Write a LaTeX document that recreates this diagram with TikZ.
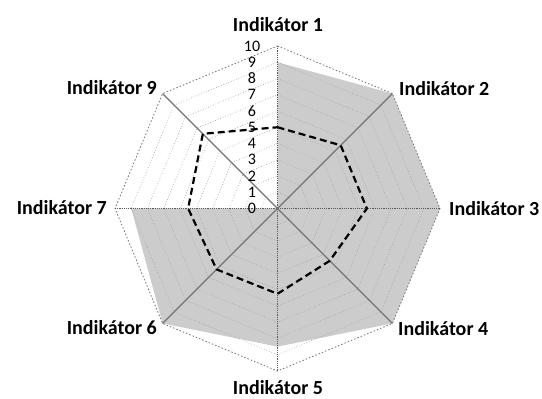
\documentclass[tikz,border=0pt]{standalone}
\usepackage{fontspec}
\setmainfont{Carlito}
\begin{document}
\begin{tikzpicture}[x=1pt,y=1pt,
  shadefill/.style={fill=black!20},
  ring/.style={draw=black!35, dotted, line width=0.7pt},
  outerring/.style={draw=black!55, dash pattern=on 1.5pt off 2pt, line width=0.8pt},
  axisdot/.style={draw=black!65, densely dotted, line width=1.2pt},
  axisline/.style={draw=black!55, line width=1.2pt},
  dataline/.style={draw=black, line width=2.2pt, dash pattern=on 7pt off 4pt},
  ticklbl/.style={font=\fontsize{16}{16}\selectfont, inner sep=0pt, anchor=base},
  indlbl/.style={font=\fontsize{20}{20}\selectfont\bfseries, inner sep=0pt}]
\useasboundingbox (0,0) rectangle (542,399);
\begin{scope}[shift={(277.5,190.5)}]
  \def\U{16.25}
  \coordinate (c) at (0,0);
  % outer vertices
  \foreach \n/\a in {1/90,2/45,3/0,4/-45,5/-90,6/-135,7/180,9/135}
    \coordinate (v\n) at (\a:10*\U);
  % shaded series
  \coordinate (s1) at (90:9*\U);
  \coordinate (s5) at (-90:8.5*\U);
  \coordinate (s7) at (180:9*\U);
  \fill[shadefill] (s1) -- (v2) -- (v3) -- (v4) -- (s5) -- (v6) -- (s7) -- (c) -- cycle;
  % grid rings
  \foreach \k in {1,...,9}
    \draw[ring] (90:\k*\U) -- (45:\k*\U) -- (0:\k*\U) -- (-45:\k*\U) -- (-90:\k*\U)
      -- (-135:\k*\U) -- (180:\k*\U) -- (135:\k*\U) -- cycle;
  \draw[outerring] (v1) -- (v2) -- (v3) -- (v4) -- (v5) -- (v6) -- (v7) -- (v9) -- cycle;
  % axes
  \draw[axisdot] (v1) -- (v5);
  \draw[axisdot] (v7) -- (v3);
  \draw[axisline] (v2) -- (v6);
  \draw[axisline] (v9) -- (v4);
  % data series
  \coordinate (d1) at (90:5*\U);
  \coordinate (d2) at (45:5.5*\U);
  \coordinate (d3) at (0:5.5*\U);
  \coordinate (d4) at (-45:4.55*\U);
  \coordinate (d5) at (-90:5.25*\U);
  \coordinate (d6) at (-135:5.3*\U);
  \coordinate (d7) at (180:5.5*\U);
  \coordinate (d9) at (135:6.5*\U);
  \draw[dataline, line join=round] (d1) -- (d2) -- (d3) -- (d4) -- (d5) -- (d6) -- (d7) -- (d9) -- cycle;
  % tick labels
  \foreach \k in {0,...,10}
    \node[ticklbl] (t\k) at (-25.5,\k*\U-5.2) {\k};
\end{scope}
% indicator labels
\node[indlbl, anchor=base] (i1) at (278,367.5) {Indikátor 1};
\node[indlbl, anchor=base west] (i2) at (399,303.5) {Indikátor 2};
\node[indlbl, anchor=base west] (i3) at (449,183.5) {Indikátor 3};
\node[indlbl, anchor=base west] (i4) at (398,63.5) {Indikátor 4};
\node[indlbl, anchor=base] (i5) at (278,4.5) {Indikátor 5};
\node[indlbl, anchor=base east] (i6) at (157,64.5) {Indikátor 6};
\node[indlbl, anchor=base east] (i7) at (107,184.5) {Indikátor 7};
\node[indlbl, anchor=base east] (i9) at (157,304.5) {Indikátor 9};
\end{tikzpicture}
\end{document}
